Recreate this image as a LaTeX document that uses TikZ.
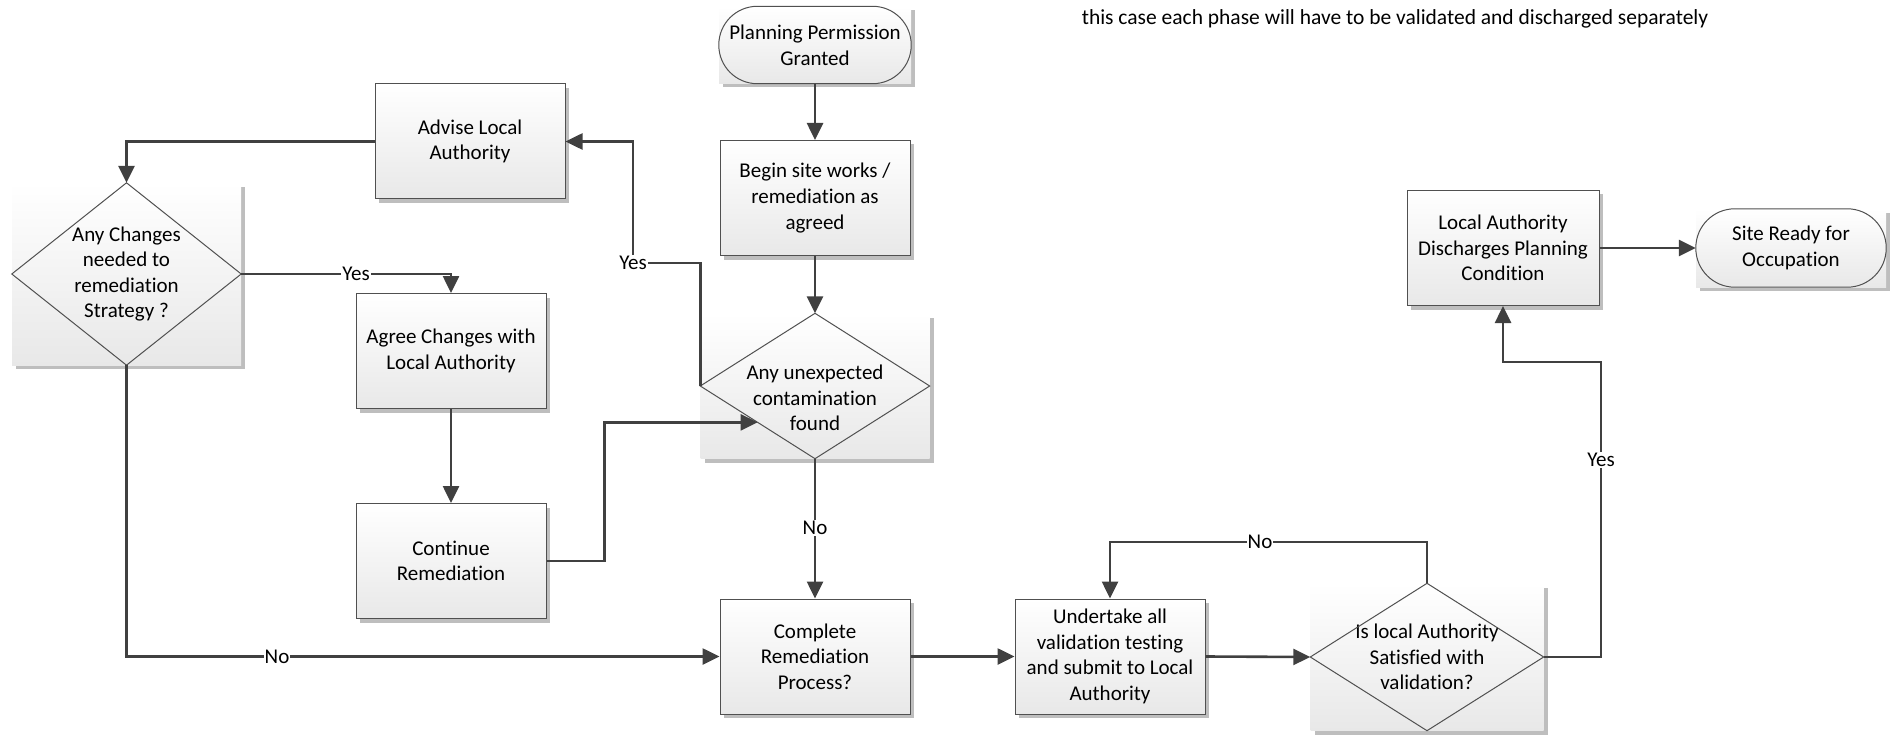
\documentclass[tikz,border=0pt]{standalone}
\usepackage{fontspec}
\setmainfont{Carlito}[Ligatures=NoCommon]
\usetikzlibrary{arrows.meta,shadows,calc}
\definecolor{ln}{HTML}{404040}
\definecolor{bd}{HTML}{505050}
\definecolor{sh}{HTML}{BEBEBE}
\begin{document}
\begin{tikzpicture}[x=1pt,y=-1pt,
 font=\fontsize{21}{25.6}\selectfont,
 base/.style={rectangle, align=center, inner sep=0pt, top color=white, bottom color=black!9,
   drop shadow={shadow xshift=4pt,shadow yshift=-4pt,fill=sh,opacity=1}},
 proc/.style={base, draw=bd, line width=1pt, minimum width=190pt, minimum height=115pt},
 dec/.style={base, minimum width=229pt, minimum height=145pt},
 term/.style={base, minimum width=192pt, minimum height=77pt},
 outline/.style={draw=bd, line width=1pt},
 conn/.style={draw=ln, line width=2.6pt, -{Triangle[length=17pt,width=16pt]}},
 lbl/.style={fill=white, inner sep=1pt}
]
\useasboundingbox (0,0) rectangle (1890,738);

\node[anchor=base, font=\fontsize{21.5}{26}\selectfont] (note) at (1395,25)
  {this case each phase will have to be validated and discharged separately};

% nodes
\node[term] (PPG) at (815,45) {Planning Permission\\Granted};
\node[proc] (BSW) at (815,198) {Begin site works /\\remediation as\\agreed};
\node[dec]  (AUC) at (815,386) {};
\node[align=center] (AUCt) at (815,398) {Any unexpected\\contamination\\found};
\node[proc] (CRP) at (815,656.5) {Complete\\Remediation\\Process?};
\node[proc] (ALA) at (470,141.5) {Advise Local\\Authority};
\node[dec, minimum width=229pt, minimum height=182pt] (ACN) at (126.5,274) {Any Changes\\needed to\\remediation\\Strategy ?};
\node[proc] (AC)  at (451,351) {Agree Changes with\\Local Authority};
\node[proc] (CR)  at (451,561) {Continue\\Remediation};
\node[proc] (UAV) at (1110,656.5) {Undertake all\\validation testing\\and submit to Local\\Authority};
\node[dec, minimum width=233pt, minimum height=147pt] (ILA) at (1427,657) {Is local Authority\\Satisfied with\\validation?};
\node[proc, minimum width=192pt] (LAD) at (1503,248) {Local Authority\\Discharges Planning\\Condition};
\node[term, minimum width=190pt, minimum height=78pt] (SRO) at (1791,248) {Site Ready for\\Occupation};

% outlines
\foreach \n in {AUC,ACN,ILA}{
  \draw[outline] (\n.north) -- (\n.east) -- (\n.south) -- (\n.west) -- cycle;
}
\draw[outline, rounded corners=38.5pt] (PPG.north west) rectangle (PPG.south east);
\draw[outline, rounded corners=39pt] (SRO.north west) rectangle (SRO.south east);

% connectors
\draw[conn] (PPG.south) -- (BSW.north);
\draw[conn] (BSW.south) -- (AUC.north);
\draw[conn] (AUC.west) |- (633,263) |- (ALA.east);
\node[lbl] (y1) at (633,263) {Yes};
\draw[conn] (ALA.west) -| (ACN.north);
\draw[conn] (ACN.east) -| (AC.north);
\node[lbl] (y2) at (356,274) {Yes};
\draw[conn] (AC.south) -- (CR.north);
\coordinate (m) at ($(AUC.west)!0.5!(AUC.south)$);
\draw[conn] (CR.east) -- ++(58,0) |- (m);
\draw[conn] (AUC.south) -- (CRP.north);
\node[lbl] (n1) at (815,528) {No};
\draw[conn] (ACN.south) |- (CRP.west);
\node[lbl] (n2) at (277,656.5) {No};
\draw[conn] (CRP.east) -- (UAV.west);
\draw[conn] (UAV.east) -- (ILA.west);
\draw[conn] (ILA.north) -- ++(0,-41.5) -| (UAV.north);
\node[lbl] (n3) at (1260,542) {No};
\draw[conn] (ILA.east) -| (1601,362) -| (LAD.south);
\node[lbl] (y3) at (1601,460) {Yes};
\draw[conn] (LAD.east) -- (SRO.west);
\end{tikzpicture}
\end{document}
